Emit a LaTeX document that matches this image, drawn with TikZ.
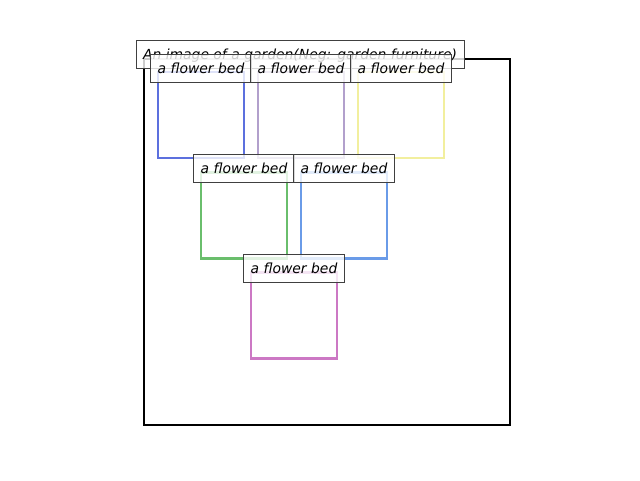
\documentclass[tikz,border=0pt]{standalone}
\usepackage{fontspec}
\setmainfont{DejaVu Sans}
\usepackage{tikz}

\definecolor{bedA}{RGB}{92,112,222}
\definecolor{bedB}{RGB}{178,160,204}
\definecolor{bedC}{RGB}{242,239,158}
\definecolor{bedD}{RGB}{106,190,108}
\definecolor{bedE}{RGB}{106,155,232}
\definecolor{bedF}{RGB}{204,120,196}

\begin{document}
\begin{tikzpicture}[x=1pt,y=-1pt,
  every node/.style={font=\fontsize{13.9}{16}\selectfont\itshape},
  bed/.style={draw=#1, line width=2.5pt, minimum size=86pt, inner sep=0pt, outer sep=0pt},
  tag/.style={draw=black!75, fill=white, fill opacity=0.8, text opacity=1, line width=0.9pt,
    inner xsep=7pt, inner ysep=7pt, text height=12.4pt, text depth=1.5pt}]
\useasboundingbox (0,0) rectangle (640,480);
% the garden
\node[draw=black, line width=2pt, minimum size=366pt, inner sep=0pt] (garden) at (327,242) {};
% flower beds
\node[bed=bedA] (bed1) at (201,115) {};
\node[bed=bedB] (bed2) at (301,115) {};
\node[bed=bedC] (bed3) at (401,115) {};
\node[bed=bedD] (bed4) at (244,215.5) {};
\node[bed=bedE] (bed5) at (344,215.5) {};
\node[bed=bedF] (bed6) at (294,315.5) {};
% labels
\node[tag] (title) at (300,54) {An image of a garden(Neg: garden furniture)};
\foreach \b in {1,...,6}
  \node[tag, minimum width=100pt] (tag\b) at ([yshift=4pt]bed\b.north) {a flower bed};
\end{tikzpicture}
\end{document}
